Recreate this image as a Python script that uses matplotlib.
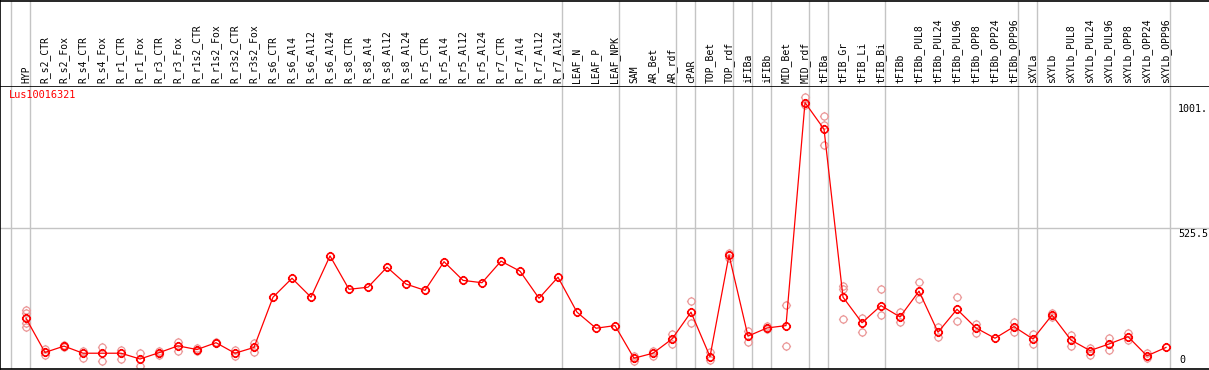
import matplotlib
matplotlib.use("Agg")
import matplotlib.pyplot as plt
import matplotlib.transforms as mtransforms
from matplotlib.path import Path

# ── data ─────────────────────────────────────────────────────────────────────
GENE = "Lus10016321"

CATEGORIES = [
    "HYP", "R_s2_CTR", "R_s2_Fox", "R_s4_CTR", "R_s4_Fox", "R_r1_CTR", "R_r1_Fox",
    "R_r3_CTR", "R_r3_Fox", "R_r1s2_CTR", "R_r1s2_Fox", "R_r3s2_CTR", "R_r3s2_Fox",
    "R_s6_CTR", "R_s6_Al4", "R_s6_Al12", "R_s6_Al24", "R_s8_CTR", "R_s8_Al4",
    "R_s8_Al12", "R_s8_Al24", "R_r5_CTR", "R_r5_Al4", "R_r5_Al12", "R_r5_Al24",
    "R_r7_CTR", "R_r7_Al4", "R_r7_Al12", "R_r7_Al24", "LEAF_N", "LEAF_P", "LEAF_NPK",
    "SAM", "AR_Bet", "AR_rdf", "cPAR", "TOP_Bet", "TOP_rdf", "iFIBa", "iFIBb",
    "MID_Bet", "MID_rdf", "tFIBa", "tFIB_Gr", "tFIB_Li", "tFIB_Bi", "tFIBb",
    "tFIBb_PUL8", "tFIBb_PUL24", "tFIBb_PUL96", "tFIBb_OPP8", "tFIBb_OPP24",
    "tFIBb_OPP96", "sXYLa", "sXYLb", "sXYLb_PUL8", "sXYLb_PUL24", "sXYLb_PUL96",
    "sXYLb_OPP8", "sXYLb_OPP24", "sXYLb_OPP96",
]

MEANS = [
    181, 51, 75, 48, 48, 48, 26, 50, 76, 62, 88, 48, 70,
    261, 333, 261, 418, 291, 299, 375, 311, 287, 396, 325, 316,
    398, 360, 257, 337, 204, 143, 153,
    29, 48, 102, 204, 35, 421, 113, 144, 153, 1001,
    900, 261, 164, 229, 186, 284, 128, 215, 144, 105, 149,
    102, 193, 98, 58, 83, 111, 38, 70,
]

REPLICATES = [
    [212, 202, 162, 147], [63, 41], [78, 72], [57, 29], [70, 18], [60, 25], [50, 0],
    [58, 40], [90, 57], [66, 58], [92, 85], [60, 38], [86, 52],
    [], [], [], [], [], [], [], [], [], [], [], [],
    [], [], [], [], [], [], [],
    [39, 20], [58, 38], [120, 83], [247, 162], [52, 22], [428, 409], [134, 90],
    [151, 140], [231, 74], [1022, 990],
    [950, 916, 840], [304, 294, 177], [183, 128], [291, 193], [206, 166],
    [318, 253], [147, 110], [261, 171], [159, 126], [], [168, 130],
    [120, 83], [202, 187], [117, 76], [67, 41], [105, 60], [126, 98], [48, 29], [],
]

# index of the last category in each group (-1 = line before the first one)
GROUP_ENDS = [-1, 0, 28, 31, 34, 35, 37, 38, 39, 41, 42, 45, 52, 53, 60]

YTICK_VALUES = [0, 525.5, 1001]
YTICK_LABELS = ["0", "525.5", "1001."]

# ── style ────────────────────────────────────────────────────────────────────
W, H = 1209, 370
RED = "#ff0000"
PINK = "#eb9a9a"
GRID = "#c4c4c4"
MONO = "DejaVu Sans Mono"


def tick_circle():
    circ = Path.unit_circle()
    segs = [Path([(dx, dy), (1.3 * dx, 1.3 * dy)], [Path.MOVETO, Path.LINETO])
            for dx, dy in [(1, 0), (-1, 0), (0, 1), (0, -1)]]
    return Path.make_compound_path(circ, *segs)


MARK = tick_circle()

fig = plt.figure(figsize=(W / 100, H / 100), dpi=100)
ax = fig.add_axes([0, 1 / H, 1, 283 / H])
hdr = fig.add_axes([0, 284 / H, 1, 85.5 / H], sharex=ax)

x0 = -26 / 19
ax.set_xlim(x0, x0 + W / 19)
ax.set_ylim(-12, 1064)
hdr.set_ylim(0, 1)

for a in (ax, hdr):
    a.set_xticks([])
    a.set_yticks([])
    a.spines["right"].set_visible(False)
    for s in ("top", "left", "bottom"):
        a.spines[s].set_color("black")
        a.spines[s].set_linewidth(1.2)
    for g in GROUP_ENDS:
        a.axvline(g + 0.23, color=GRID, lw=1.0, zorder=0)
hdr.spines["bottom"].set_visible(False)

# horizontal grid line at the middle value
ax.axhline(YTICK_VALUES[1], color=GRID, lw=1.0, zorder=0)

xs = list(range(len(CATEGORIES)))

# replicates
for i, reps in enumerate(REPLICATES):
    if reps:
        ax.plot([i] * len(reps), reps, linestyle="none", marker=MARK,
                markersize=6.6, markerfacecolor="none", markeredgecolor=PINK,
                markeredgewidth=0.9, zorder=2)

# mean line + markers
ax.plot(xs, MEANS, color=RED, lw=0.9, zorder=3)
ax.plot(xs, MEANS, linestyle="none", marker=MARK, markersize=6.6,
        markerfacecolor="none", markeredgecolor=RED, markeredgewidth=1.2, zorder=4)

# category labels in header
trans = mtransforms.blended_transform_factory(hdr.transData, hdr.transAxes)
for i, name in enumerate(CATEGORIES):
    hdr.text(i, 0.03, name, rotation=90, ha="center", va="bottom",
             fontsize=7, family=MONO, transform=trans)

# gene name
ax.text(x0 + 9 / 19, 1050, GENE, color=RED, fontsize=7.4,
        family=MONO, ha="left", va="top")

# value labels on the right
xl = x0 + 1178 / 19
ax.text(xl, YTICK_VALUES[2] - 6, YTICK_LABELS[2], fontsize=7.2, family=MONO,
        ha="left", va="top")
ax.text(xl, YTICK_VALUES[1] - 6, YTICK_LABELS[1], fontsize=7.2, family=MONO,
        ha="left", va="top")
ax.text(x0 + 1179 / 19, YTICK_VALUES[0] + 4, YTICK_LABELS[0], fontsize=7.2,
        family=MONO, ha="left", va="bottom")

fig.savefig("out.png", dpi=100)
